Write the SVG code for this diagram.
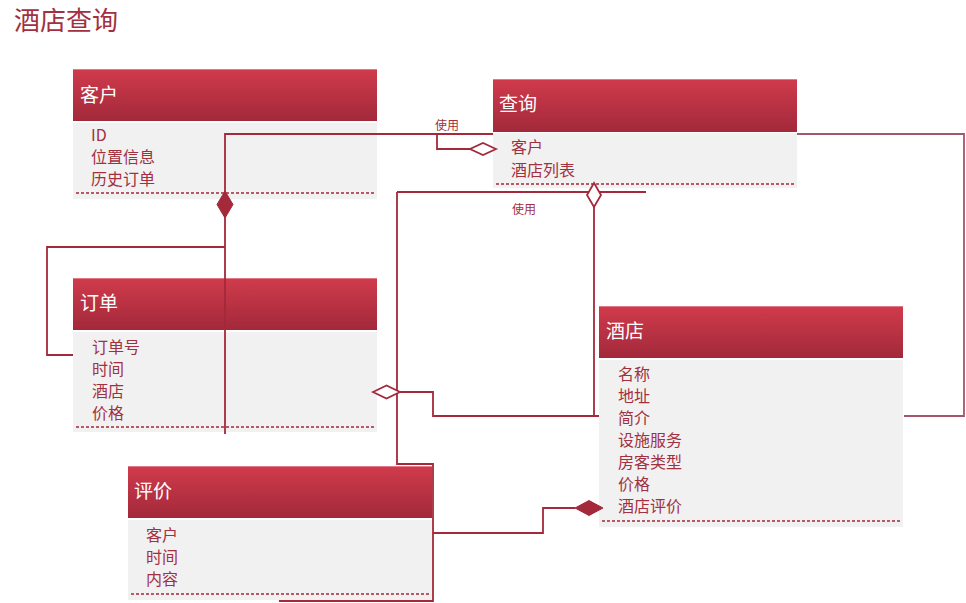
<svg xmlns="http://www.w3.org/2000/svg" width="966" height="603" viewBox="0 0 966 603">
  <defs>
    <linearGradient id="hdr" x1="0" y1="0" x2="0" y2="1">
      <stop offset="0" stop-color="#d03b4c"/>
      <stop offset="1" stop-color="#a2293a"/>
    </linearGradient>
  </defs>
  <style>
    .title { font-family: "Noto Sans CJK SC", "Liberation Sans", sans-serif; font-size: 26px; fill: #a3303f; }
    .hdr { fill: url(#hdr); }
    .hdrEdge { stroke: #e27a88; stroke-width: 1; }
    .body { fill: #f1f1f1; }
    .sep { stroke: #a3293b; stroke-width: 1.5; stroke-dasharray: 3 2; }
    .name { font-family: "Noto Sans CJK SC", "Liberation Sans", sans-serif; font-size: 19px; fill: #ffffff; }
    .attr { font-family: "Noto Sans CJK SC", "Liberation Sans", sans-serif; font-size: 16px; fill: #a3303f; }
    .lbl { font-family: "Noto Sans CJK SC", "Liberation Sans", sans-serif; font-size: 12px; fill: #a3303f; }
    .wire { fill: none; stroke: #a3293b; stroke-width: 1.8; }
    .wire2 { fill: none; stroke: #a5566a; stroke-width: 1.8; }
    .solid { fill: #a3293b; stroke: #a3293b; stroke-width: 1; }
    .hollow { fill: #ffffff; stroke: #a3293b; stroke-width: 1.8; }
  </style>

  <text class="title" x="14" y="30">酒店查询</text>

  <!-- class boxes -->
  <g id="kehu">
    <rect class="hdr" x="73" y="69" width="304" height="52"/>
    <line class="hdrEdge" x1="73" y1="69.5" x2="377" y2="69.5"/>
    <rect class="body" x="73" y="123" width="304" height="76"/>
    <line class="sep" x1="76" y1="193" x2="375" y2="193"/>
    <text class="name" x="80" y="102">客户</text>
    <text class="attr" x="91" y="141">ID</text>
    <text class="attr" x="91" y="163">位置信息</text>
    <text class="attr" x="91" y="185">历史订单</text>
  </g>

  <g id="chaxun">
    <rect class="hdr" x="493" y="79" width="304" height="53"/>
    <line class="hdrEdge" x1="493" y1="79.5" x2="797" y2="79.5"/>
    <rect class="body" x="493" y="133" width="304" height="55"/>
    <line class="sep" x1="496" y1="184" x2="795" y2="184"/>
    <text class="name" x="499" y="111">查询</text>
    <text class="attr" x="511" y="153">客户</text>
    <text class="attr" x="511" y="176">酒店列表</text>
  </g>

  <g id="dingdan">
    <rect class="hdr" x="73" y="278" width="304" height="52"/>
    <line class="hdrEdge" x1="73" y1="278.5" x2="377" y2="278.5"/>
    <rect class="body" x="73" y="332" width="304" height="100"/>
    <line class="sep" x1="76" y1="427" x2="375" y2="427"/>
    <text class="name" x="80" y="310">订单</text>
    <text class="attr" x="92" y="353">订单号</text>
    <text class="attr" x="92" y="375">时间</text>
    <text class="attr" x="92" y="397">酒店</text>
    <text class="attr" x="92" y="419">价格</text>
  </g>

  <g id="jiudian">
    <rect class="hdr" x="599" y="306" width="304" height="52"/>
    <line class="hdrEdge" x1="599" y1="306.5" x2="903" y2="306.5"/>
    <rect class="body" x="599" y="360" width="304" height="167"/>
    <line class="sep" x1="602" y1="521" x2="901" y2="521"/>
    <text class="name" x="606" y="338">酒店</text>
    <text class="attr" x="618" y="380">名称</text>
    <text class="attr" x="618" y="402">地址</text>
    <text class="attr" x="618" y="424">简介</text>
    <text class="attr" x="618" y="446">设施服务</text>
    <text class="attr" x="618" y="468">房客类型</text>
    <text class="attr" x="618" y="490">价格</text>
    <text class="attr" x="618" y="512">酒店评价</text>
  </g>

  <g id="pingjia">
    <rect class="hdr" x="128" y="466" width="304" height="52"/>
    <line class="hdrEdge" x1="128" y1="466.5" x2="432" y2="466.5"/>
    <rect class="body" x="128" y="520" width="304" height="80"/>
    <line class="sep" x1="131" y1="594" x2="430" y2="594"/>
    <text class="name" x="134" y="498">评价</text>
    <text class="attr" x="146" y="541">客户</text>
    <text class="attr" x="146" y="563">时间</text>
    <text class="attr" x="146" y="585">内容</text>
  </g>

  <!-- associations -->
  <g id="connectors">
    <path class="wire" d="M493 134 H225 V434"/>
    <polygon class="solid" points="225,191 233,204.5 225,218 217,204.5"/>
    <path class="wire" d="M225 247 H47 V355 H73"/>

    <path class="wire" d="M470 149 H437 V134"/>
    <polygon class="hollow" points="496,149 483,143 470,149 483,155"/>
    <text class="lbl" x="435" y="130">使用</text>

    <path class="wire" d="M397 192 H646"/>
    <path class="wire" d="M397 192 V464 H433 V601 H279"/>
    <path class="wire" d="M594 207 V416"/>
    <polygon class="hollow" points="594,183 601,195 594,207 587,195"/>
    <text class="lbl" x="512" y="214">使用</text>

    <path class="wire" d="M400 392 H433 V416 H599"/>
    <polygon class="hollow" points="373,392 386.5,385.5 400,392 386.5,398.5"/>

    <path class="wire2" d="M797 134 H964 V416 H904"/>

    <path class="wire" d="M433 533 H543 V508 H575"/>
    <polygon class="solid" points="575,508 589,500.5 603,508 589,515.5"/>
  </g>
</svg>
